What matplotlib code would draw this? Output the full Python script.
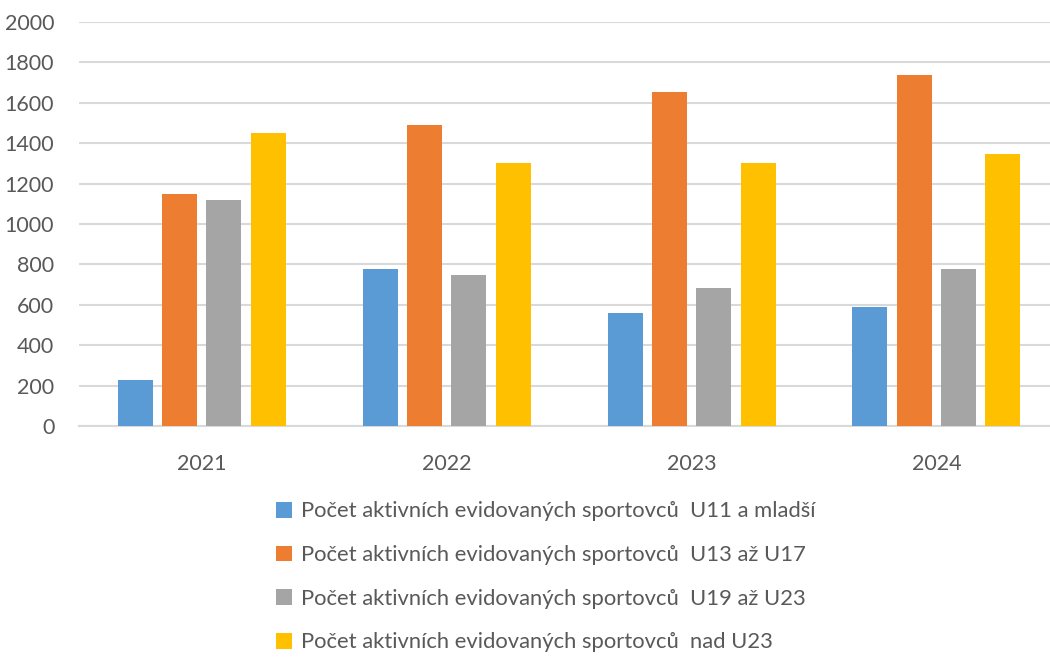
import matplotlib
matplotlib.use('Agg')
import matplotlib.pyplot as plt
import numpy as np

roky = ['2021', '2022', '2023', '2024']
u11 = [228, 777, 559, 589]
u13_u17 = [1148, 1490, 1653, 1737]
u19_u23 = [1119, 747, 683, 777]
nad_u23 = [1450, 1302, 1302, 1346]

popisky = [
    'Počet aktivních evidovaných sportovců  U11 a mladší',
    'Počet aktivních evidovaných sportovců  U13 až U17',
    'Počet aktivních evidovaných sportovců  U19 až U23',
    'Počet aktivních evidovaných sportovců  nad U23',
]
barvy = ['#5b9bd5', '#ed7d31', '#a5a5a5', '#ffc000']

plt.rcParams['font.family'] = ['Lato', 'DejaVu Sans']
text_barva = '#595959'

fig = plt.figure(figsize=(10.5, 6.58), dpi=100)
ax = fig.add_axes([0.0755, 0.3526, 0.933, 0.614])

x = np.arange(len(roky))
sirka = 0.143
krok = 0.181
for i, (data, barva, popis) in enumerate(zip([u11, u13_u17, u19_u23, nad_u23], barvy, popisky)):
    ax.bar(x + (i - 1.5) * krok, data, width=sirka, color=barva, label=popis, zorder=3)

ax.set_xlim(-0.5, 3.5)
ax.set_ylim(0, 2000)
ax.set_yticks(range(0, 2001, 200))
ax.set_xticks(x)
ax.set_xticklabels(roky)
ax.yaxis.grid(True, color='#d9d9d9', linewidth=1.5, zorder=0)
ax.tick_params(length=0, labelsize=15.5, labelcolor=text_barva)
ax.tick_params(axis='x', pad=20)
ax.tick_params(axis='y', pad=18)
for s in ['top', 'right', 'left']:
    ax.spines[s].set_visible(False)
ax.spines['bottom'].set_color('#d9d9d9')
ax.spines['bottom'].set_linewidth(1.5)

leg = fig.legend(loc='upper left', bbox_to_anchor=(0.263, 0.238), ncol=1, frameon=False,
                 fontsize=15.8, labelspacing=1.08, handlelength=0.72, handleheight=0.72,
                 handletextpad=0.4, borderaxespad=0, borderpad=0)
for t in leg.get_texts():
    t.set_color(text_barva)

plt.savefig('out.png', dpi=100)
